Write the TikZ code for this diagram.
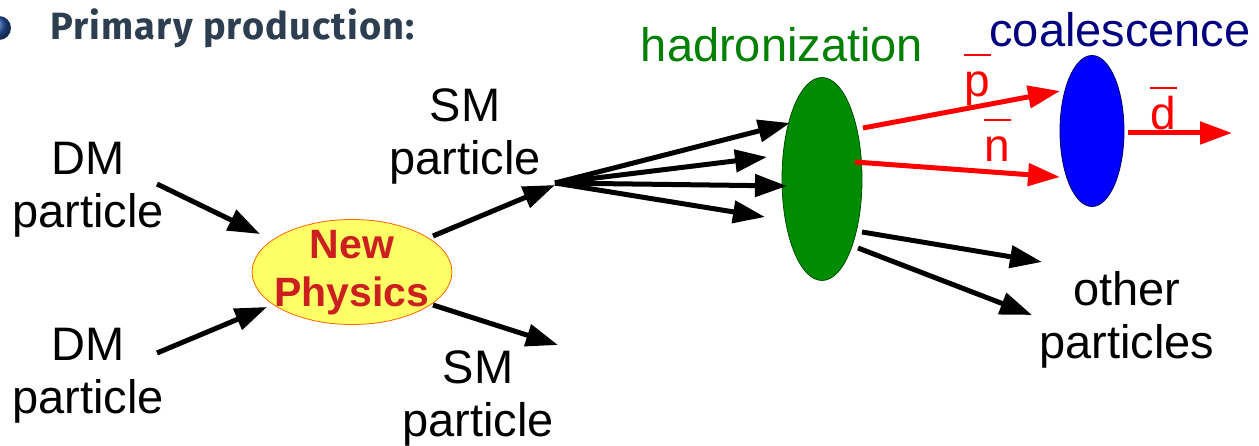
\documentclass[tikz,border=0pt]{standalone}
\usepackage{fontspec}
\setmainfont{Liberation Sans}
\newfontfamily\firab{Fira Sans}
\usetikzlibrary{shapes.geometric,arrows.meta}
\definecolor{slate}{RGB}{44,62,80}
\definecolor{hgreen}{RGB}{0,128,0}
\definecolor{ellgreen}{RGB}{0,140,0}
\definecolor{cnavy}{RGB}{0,0,128}
\definecolor{npyellow}{RGB}{255,255,102}
\definecolor{npred}{RGB}{204,32,32}
\definecolor{ballblue}{RGB}{40,90,170}
\newcommand\barred[2]{\rlap{\hspace{#2}\rule[0.88em]{0.58em}{2pt}}#1}
\begin{document}
\begin{tikzpicture}[x=1pt,y=-1pt,
  txt/.style={font=\fontsize{47}{53}\selectfont, align=center, inner sep=0pt},
  arr/.style={line width=5pt, -{Triangle[length=32pt,width=22pt]}},
  rarr/.style={arr, red},
  lbl/.style={font=\fontsize{46}{50}\selectfont, text=red, inner sep=0pt}]
\useasboundingbox (0,0) rectangle (1259,446);
% bullet and heading
\shade[ball color=ballblue] (-1,28) circle (12);
\node[anchor=west, inner sep=0pt, text=slate, font=\firab\bfseries\fontsize{38}{44}\selectfont] (head) at (50,28) {\addfontfeature{LetterSpace=3}Primary production:};
% ellipses
\node[ellipse, draw=orange!80!red, line width=0.8pt, fill=npyellow, minimum width=200, minimum height=105, inner sep=0pt] (np) at (352,272) {};
\node[font=\bfseries\fontsize{41}{48}\selectfont, text=npred, align=center, inner sep=0pt] (nptext) at (352,273) {New\\Physics};
\node[ellipse, draw=green!30!black, line width=0.8pt, fill=ellgreen, minimum width=80, minimum height=203, inner sep=0pt] (had) at (822,179) {};
\node[ellipse, draw=blue!40!black, line width=0.8pt, fill=blue, minimum width=64, minimum height=151, inner sep=0pt] (coal) at (1092,131) {};
% titles
\node[txt, text=hgreen] (hadlbl) at (782,45) {hadronization};
\node[txt, text=cnavy] (coallbl) at (1120,30) {coalescence};
% particle labels
\node[txt] (dm1) at (88,190) {DM\\particle};
\node[txt] (dm2) at (88,376) {DM\\particle};
\node[txt] (sm1) at (465,136) {SM\\particle};
\node[txt] (sm2) at (478,398) {SM\\particle};
\node[txt] (other) at (1127,320) {other\\particles};
\node[lbl] (pbar) at (977,80) {\barred{p}{0pt}};
\node[lbl] (nbar) at (997,140) {\barred{n}{0pt}};
\node[lbl] (dbar) at (1163,108) {\barred{d}{0pt}};
% connector coordinates
\coordinate (a1s) at (157,184); \coordinate (a1e) at (260,234);
\coordinate (a2s) at (157,353); \coordinate (a2e) at (267,307);
\coordinate (b1s) at (433,236); \coordinate (b1e) at (555,185);
\coordinate (b2s) at (433,305); \coordinate (b2e) at (558,345);
\coordinate (fan) at (555,183);
\coordinate (f1) at (790,123); \coordinate (f2) at (767,157);
\coordinate (f3) at (787,186); \coordinate (f4) at (765,217);
\coordinate (o1s) at (862,232); \coordinate (o1e) at (1042,262);
\coordinate (o2s) at (858,248); \coordinate (o2e) at (1032,315);
\coordinate (rps) at (863,128); \coordinate (rpe) at (1060,91);
\coordinate (rns) at (855,162); \coordinate (rne) at (1060,177);
\coordinate (rds) at (1128,133); \coordinate (rde) at (1232,133);
% arrows
\draw[arr] (a1s) -- (a1e);
\draw[arr] (a2s) -- (a2e);
\draw[arr] (b1s) -- (b1e);
\draw[arr] (b2s) -- (b2e);
\draw[arr] (fan) -- (f1);
\draw[arr] (fan) -- (f2);
\draw[arr] (fan) -- (f3);
\draw[arr] (fan) -- (f4);
\draw[arr] (o1s) -- (o1e);
\draw[arr] (o2s) -- (o2e);
\draw[rarr] (rps) -- (rpe);
\draw[rarr] (rns) -- (rne);
\draw[rarr] (rds) -- (rde);
\end{tikzpicture}
\end{document}
